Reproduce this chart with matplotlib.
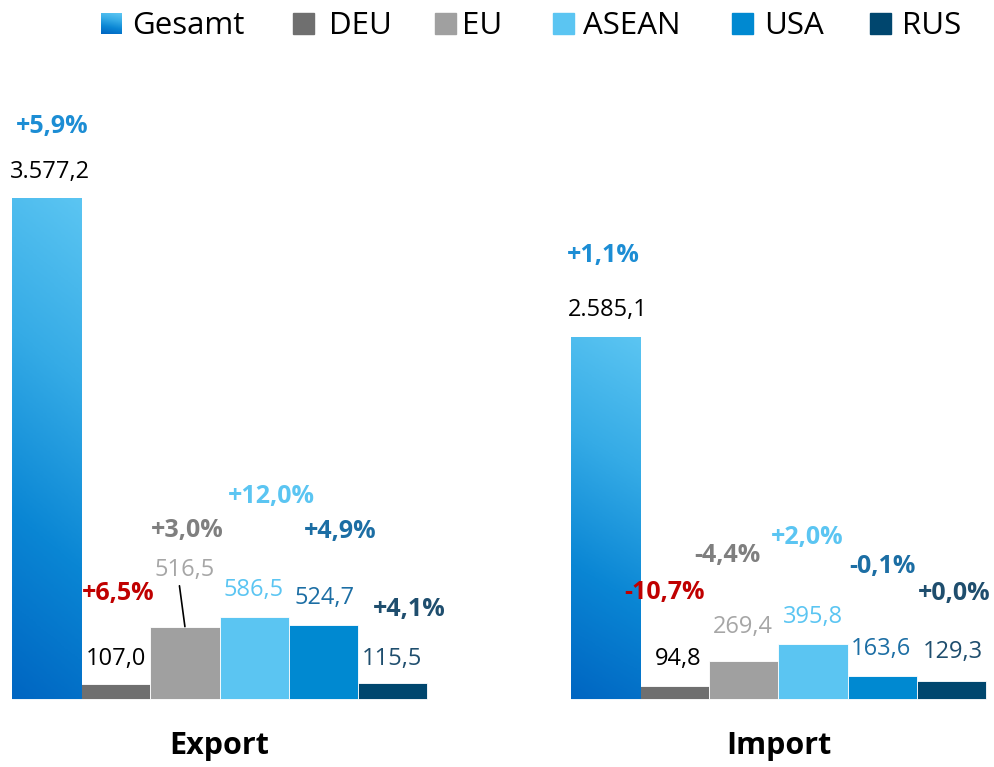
import numpy as np
import matplotlib.pyplot as plt
from matplotlib.colors import LinearSegmentedColormap
from matplotlib.patches import Rectangle

plt.rcParams['font.family'] = ['Open Sans', 'DejaVu Sans']

# data
categories = ['Gesamt', 'DEU', 'EU', 'ASEAN', 'USA', 'RUS']
groups = ['Export', 'Import']
export_vals = [3577.2, 107.0, 516.5, 586.5, 524.7, 115.5]
import_vals = [2585.1, 94.8, 269.4, 395.8, 163.6, 129.3]
export_pct = ['+5,9%', '+6,5%', '+3,0%', '+12,0%', '+4,9%', '+4,1%']
import_pct = ['+1,1%', '-10,7%', '-4,4%', '+2,0%', '-0,1%', '+0,0%']

# styles
bar_colors = ['#1E90DA', '#6F6F6F', '#A0A0A0', '#5BC5F2', '#0089D1', '#00466E']
val_colors = ['#000000', '#000000', '#A6A6A6', '#5BC5F2', '#1C6EA4', '#1F4E6E']
pct_colors = ['#1C8DD4', '#C00000', '#7F7F7F', '#5BC5F2', '#1C6EA4', '#1F4E6E']
grad_cmap = LinearSegmentedColormap.from_list('g', ['#0066C2', '#0A86D4', '#35ABE6', '#5BC5F2'])

# label offsets in pixels from bar top centre
val_off = [[(3, 26), (0, 25), (0, 57), (-1, 27), (1, 27), (0, 24)],
           [(2, 27), (3, 27), (-1, 34), (0, 27), (-1, 27), (1, 29)]]
pct_off = [[(6, 71), (2, 91), (2, 96), (17, 120), (17, 94), (17, 73)],
           [(-2, 81), (-10, 93), (-17, 106), (-6, 106), (0, 110), (3, 87)]]
group_start = [0, 8.08]

fig = plt.figure(figsize=(9.95, 7.67), dpi=100)
ax = fig.add_axes([0, 0, 1, 1])
ax.axis('off')

gy, gx = np.mgrid[0:1:200j, 0:1:20j]
grad = gy * 0.9 + gx * 0.1

for g, (vals, pcts) in enumerate(zip([export_vals, import_vals], [export_pct, import_pct])):
    xs = [group_start[g] + i for i in range(len(vals))]
    bars = ax.bar(xs, vals, width=1.0, color=bar_colors, edgecolor='white', linewidth=0.6)
    # gradient for Gesamt
    b = bars[0]
    im = ax.imshow(grad, extent=(b.get_x(), b.get_x() + b.get_width(), 0, b.get_height()),
                   origin='lower', cmap=grad_cmap, aspect='auto', zorder=2)
    im.set_clip_path(b)
    for i, (x, v) in enumerate(zip(xs, vals)):
        txt = f'{v:,.1f}'.replace(',', 'X').replace('.', ',').replace('X', '.')
        kw = {}
        if g == 0 and i == 2:
            kw['arrowprops'] = dict(arrowstyle='-', color='black', lw=1.2,
                                    shrinkA=1, shrinkB=0, relpos=(0.4, 0.0))
        ax.annotate(txt, xy=(x, v), xytext=val_off[g][i], textcoords='offset pixels',
                    ha='center', va='center', fontsize=17, color=val_colors[i], **kw)
        ax.annotate(pcts[i], xy=(x, v), xytext=pct_off[g][i], textcoords='offset pixels',
                    ha='center', va='center', fontsize=18, fontweight='bold', color=pct_colors[i])
    ax.annotate(groups[g], xy=(np.mean(xs), 0), xytext=(0, -47), textcoords='offset pixels',
                ha='center', va='center', fontsize=22, fontweight='bold', color='black')

ax.set_xlim(-0.673, 13.71)
ax.set_ylim(-485.5, 4990)

# legend (pixel space overlay)
lax = fig.add_axes([0, 0, 1, 1])
lax.axis('off')
sq_x = [101, 293, 435, 553, 732, 870]
tx_x = [132, 329, 462, 583, 764, 902]
for i, name in enumerate(categories):
    if i == 0:
        lax.imshow(np.tile(np.linspace(1, 0, 20)[:, None], (1, 10)) * 0.85
                   + np.linspace(0, 0.15, 10)[None, :],
                   extent=(sq_x[i], sq_x[i] + 21, 34, 13), cmap=grad_cmap,
                   aspect='auto', vmin=0, vmax=1)
    else:
        lax.add_patch(Rectangle((sq_x[i], 13), 21, 21, color=bar_colors[i]))
    lax.text(tx_x[i], 34, name, fontsize=22.5, va='baseline', ha='left', color='black')
lax.set_xlim(0, 995)
lax.set_ylim(767, 0)

fig.savefig('out.png', dpi=100)
